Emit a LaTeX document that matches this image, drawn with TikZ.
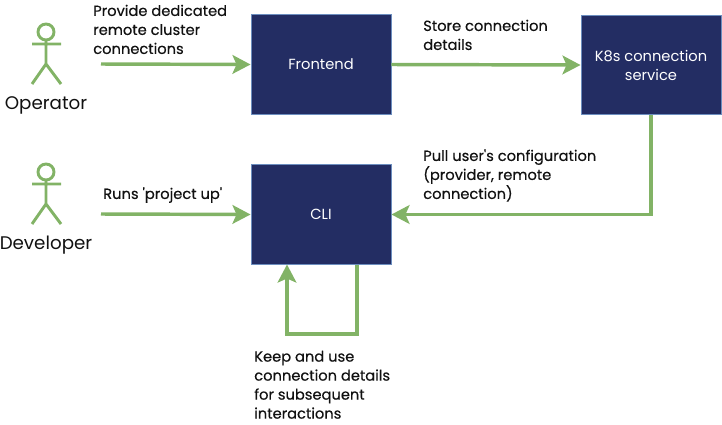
\documentclass[tikz,border=0pt]{standalone}
\usepackage{fontspec}
\setmainfont{Poppins}[Ligatures=TeXOff]
\usetikzlibrary{arrows.meta}
\definecolor{navy}{HTML}{232D63}
\definecolor{edge}{HTML}{6C8EBF}
\definecolor{leaf}{HTML}{82B366}
\definecolor{ink}{HTML}{111111}
\tikzset{flow/.style={-{Stealth[length=13.5pt,width=14pt,inset=3pt]},line width=2.6pt,leaf},
block/.style={draw=edge,fill=navy,text=white,line width=.7pt,minimum width=105pt,minimum height=74.5pt,inner sep=0pt,align=center,font=\fontsize{11}{14.25}\selectfont},
lab/.style={anchor=north west,inner sep=0pt,text=ink,align=left,font=\fontsize{11}{14.25}\selectfont\addfontfeature{FakeBold=.4}},
who/.style={text=ink,inner sep=0pt,font=\fontsize{13.7}{15}\selectfont},
stick/.style={line width=2.2pt,leaf}}

\begin{document}
\begin{tikzpicture}[x=.75pt,y=-.75pt]
\useasboundingbox (0,0) rectangle (722,425);
% boxes
\node[block] (frontend) at (321,64.5) {\raisebox{-.5pt}{Frontend}};
\node[block] (k8s) at (651,65) {K8s connection\\service};
\node[block] (cli) at (321,214.5) {\raisebox{-.5pt}{CLI}};
% actors
\draw[stick] (46,32) circle (8) (46,40)--(46,64) (32,44)--(61,44) (32,84)--(46,64)--(61,84);
\draw[stick] (46,172) circle (8) (46,180)--(46,204) (32,184)--(61,184) (32,224)--(46,204)--(61,224);
\node[who] (operator) at (46,105) {Operator};
\node[who] (developer) at (46,245) {Developer};
% free ends
\coordinate (opstart) at (101,64);
\coordinate (devstart) at (101,214);
\coordinate (loopout) at (357,264.5);
\coordinate (loopin) at (287,264.5);
% connectors
\draw[flow] (opstart) -- (frontend.west);
\draw[flow] (frontend.east) -- (k8s.west);
\draw[flow] (devstart) -- (cli.west);
\draw[flow] (k8s.south) |- (cli.east);
\draw[flow] (loopout) -- (357,334) -- (287,334) -- (loopin);
% texts
\node[lab] (l1) at (93,4.5) {Provide dedicated\\remote cluster\\connections};
\node[lab] (l2) at (423,19.5) {Store connection\\details};
\node[lab] (l3) at (423,149) {Pull user's configuration\\(provider, remote\\connection)};
\node[lab] (l4) at (103,187) {Runs 'project up'};
\node[lab] (l5) at (254,350.5) {Keep and use\\connection details\\for subsequent\\interactions};
\end{tikzpicture}
\end{document}
